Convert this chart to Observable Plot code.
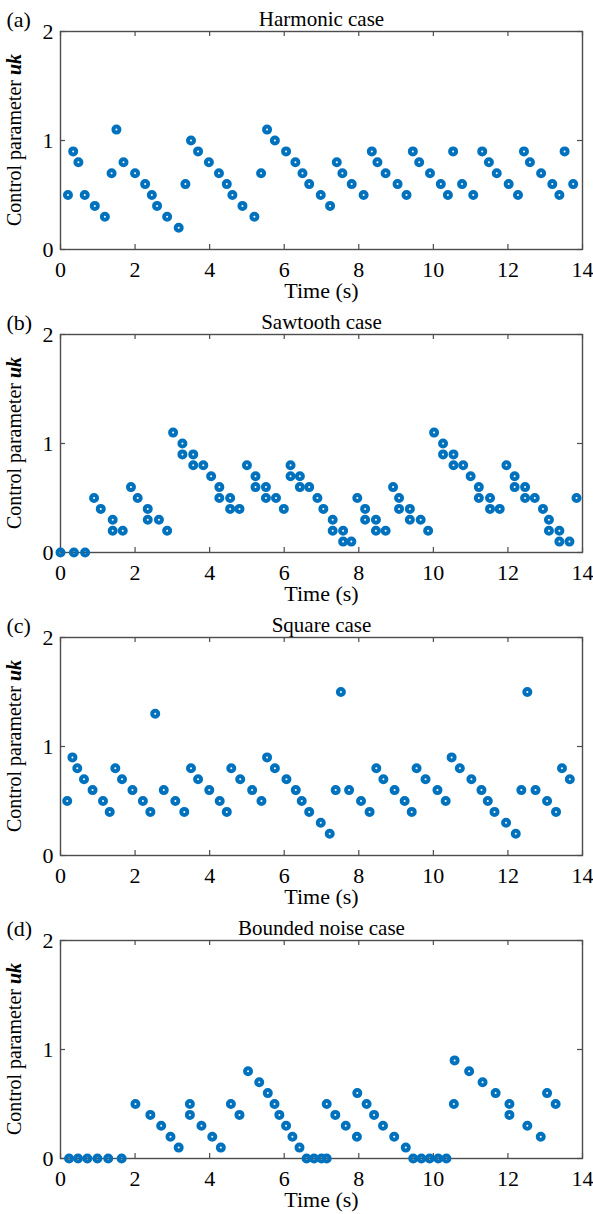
<!DOCTYPE html>
<html>
<head>
<meta charset="utf-8">
<script src="https://cdn.jsdelivr.net/npm/d3@7"></script>
<script src="https://cdn.jsdelivr.net/npm/@observablehq/plot@0.6"></script>
<style>
  body { margin: 0; background: #fff; }
  #chart svg { display: block; }
</style>
</head>
<body>
<div id="chart"></div>
<script>
// ---- Data (time in s, control parameter uk) ----
const harmonicT = [0.20,0.34,0.48,0.65,0.92,1.19,1.37,1.50,1.69,2.00,2.27,2.45,2.59,2.86,3.17,3.35,3.50,3.69,3.98,4.25,4.46,4.61,4.88,5.20,5.38,5.54,5.75,6.05,6.30,6.49,6.67,6.98,7.23,7.41,7.56,7.81,8.13,8.35,8.50,8.72,9.04,9.28,9.45,9.62,9.91,10.20,10.39,10.53,10.77,11.07,11.31,11.49,11.70,12.02,12.27,12.43,12.59,12.89,13.19,13.38,13.52,13.75];
const harmonicU = [0.5,0.9,0.8,0.5,0.4,0.3,0.7,1.1,0.8,0.7,0.6,0.5,0.4,0.3,0.2,0.6,1.0,0.9,0.8,0.7,0.6,0.5,0.4,0.3,0.7,1.1,1.0,0.9,0.8,0.7,0.6,0.5,0.4,0.8,0.7,0.6,0.5,0.9,0.8,0.7,0.6,0.5,0.9,0.8,0.7,0.6,0.5,0.9,0.6,0.5,0.9,0.8,0.7,0.6,0.5,0.9,0.8,0.7,0.6,0.5,0.9,0.6];

const sawtoothT = [0,0.36,0.66,0.90,1.08,1.40,1.40,1.67,1.89,2.07,2.34,2.34,2.64,2.86,3.02,3.27,3.27,3.56,3.56,3.83,4.04,4.26,4.26,4.55,4.55,4.80,5.00,5.23,5.23,5.51,5.51,5.78,5.99,6.17,6.17,6.42,6.42,6.67,6.89,7.05,7.30,7.30,7.58,7.58,7.80,7.96,8.17,8.17,8.46,8.46,8.72,8.92,9.08,9.08,9.37,9.37,9.66,9.86,10.02,10.26,10.26,10.54,10.54,10.80,11.00,11.22,11.22,11.52,11.52,11.78,11.96,12.18,12.18,12.46,12.46,12.72,12.94,13.10,13.10,13.38,13.38,13.65,13.84];
const sawtoothU = [0,0,0,0.5,0.4,0.3,0.2,0.2,0.6,0.5,0.4,0.3,0.3,0.2,1.1,1.0,0.9,0.9,0.8,0.8,0.7,0.6,0.5,0.5,0.4,0.4,0.8,0.7,0.6,0.6,0.5,0.5,0.4,0.8,0.7,0.7,0.6,0.6,0.5,0.4,0.3,0.2,0.2,0.1,0.1,0.5,0.4,0.3,0.3,0.2,0.2,0.6,0.5,0.4,0.4,0.3,0.3,0.2,1.1,1.0,0.9,0.9,0.8,0.8,0.7,0.6,0.5,0.5,0.4,0.4,0.8,0.7,0.6,0.6,0.5,0.5,0.4,0.3,0.2,0.2,0.1,0.1,0.5];

const squareT = [0.18,0.32,0.45,0.63,0.86,1.14,1.32,1.47,1.65,1.93,2.21,2.41,2.54,2.77,3.08,3.32,3.50,3.69,3.99,4.27,4.46,4.58,4.82,5.14,5.39,5.54,5.75,6.06,6.31,6.47,6.67,6.98,7.22,7.38,7.52,7.74,8.06,8.29,8.47,8.66,8.96,9.23,9.42,9.55,9.79,10.11,10.33,10.49,10.71,11.02,11.29,11.46,11.64,11.95,12.21,12.36,12.52,12.74,13.05,13.29,13.45,13.66];
const squareU = [0.5,0.9,0.8,0.7,0.6,0.5,0.4,0.8,0.7,0.6,0.5,0.4,1.3,0.6,0.5,0.4,0.8,0.7,0.6,0.5,0.4,0.8,0.7,0.6,0.5,0.9,0.8,0.7,0.6,0.5,0.4,0.3,0.2,0.6,1.5,0.6,0.5,0.4,0.8,0.7,0.6,0.5,0.4,0.8,0.7,0.6,0.5,0.9,0.8,0.7,0.6,0.5,0.4,0.3,0.2,0.6,1.5,0.6,0.5,0.4,0.8,0.7];

const noiseT = [0.23,0.47,0.72,0.99,1.28,1.64,2.01,2.41,2.70,2.95,3.17,3.47,3.47,3.78,4.07,4.30,4.57,4.80,5.03,5.33,5.56,5.74,5.87,6.05,6.22,6.41,6.60,6.80,7.00,7.14,7.14,7.37,7.65,7.95,7.96,8.21,8.41,8.65,8.95,9.26,9.46,9.68,9.90,10.13,10.35,10.55,10.57,10.96,11.32,11.67,12.04,12.04,12.52,12.88,13.05,13.28];
const noiseU = [0,0,0,0,0,0,0.5,0.4,0.3,0.2,0.1,0.5,0.4,0.3,0.2,0.1,0.5,0.4,0.8,0.7,0.6,0.5,0.4,0.3,0.2,0.1,0,0,0,0,0.5,0.4,0.3,0.2,0.6,0.5,0.4,0.3,0.2,0.1,0,0,0,0,0,0.5,0.9,0.8,0.7,0.6,0.5,0.4,0.3,0.2,0.6,0.5];

const panelLetters = ["(a)", "(b)", "(c)", "(d)"];
const panelTitles = ["Harmonic case", "Sawtooth case", "Square case", "Bounded noise case"];
const xTicks = [0, 2, 4, 6, 8, 10, 12, 14];
const yTicks = [0, 1, 2];
const xLabel = "Time (s)";
const yLabelMain = "Control parameter ";
const yLabelVar = "uk";

const series = [[harmonicT, harmonicU], [sawtoothT, sawtoothU], [squareT, squareU], [noiseT, noiseU]];

const FONT = "'Liberation Serif', 'Times New Roman', Times, serif";
const BLUE = "#0072BD";
const AXIS = "#4d4d4d";
const W = 593, ML = 60, MR = 11, MT = 31, PH = 218;

const root = document.getElementById("chart");

series.forEach(([T, U], i) => {
  const last = i === series.length - 1;
  const H = last ? 305 : 303;
  const data = T.map((t, j) => ({t, u: U[j]}));
  const inX = W - ML - MR - 5;
  const inY = PH - 5;
  const svg = Plot.plot({
    width: W,
    height: H,
    marginLeft: ML,
    marginRight: MR,
    marginTop: MT,
    marginBottom: H - MT - PH,
    style: {fontFamily: FONT, fontSize: "22px", color: "#000", background: "#fff"},
    x: {domain: [0, 14]},
    y: {domain: [0, 2]},
    marks: [
      Plot.axisX(xTicks, {tickSize: 0, tickPadding: 12, label: null, fontSize: 22, tickFormat: d3.format("d")}),
      Plot.axisY(yTicks, {tickSize: 0, tickPadding: 7, label: null, fontSize: 22, tickFormat: d3.format("d")}),
      Plot.tickX(xTicks, {x: d => d, stroke: AXIS, strokeWidth: 1.2, insetTop: inY}),
      Plot.tickX(xTicks, {x: d => d, stroke: AXIS, strokeWidth: 1.2, insetBottom: inY}),
      Plot.tickY(yTicks, {y: d => d, stroke: AXIS, strokeWidth: 1.2, insetRight: inX}),
      Plot.tickY(yTicks, {y: d => d, stroke: AXIS, strokeWidth: 1.2, insetLeft: inX}),
      Plot.frame({stroke: AXIS, strokeWidth: 1.4}),
      Plot.text([panelTitles[i]], {frameAnchor: "top", dy: -12, fontSize: 21, lineAnchor: "middle", fill: "#000"}),
      Plot.text([panelLetters[i]], {frameAnchor: "top-left", dx: -54, dy: -12, fontSize: 22, textAnchor: "start", lineAnchor: "middle", fill: "#000"}),
      Plot.text([xLabel], {frameAnchor: "bottom", dy: 41, fontSize: 22, lineAnchor: "middle", fill: "#000"}),
      Plot.dot(data, {x: "t", y: "u", r: 3, stroke: BLUE, strokeWidth: 4, fill: "none"})
    ]
  });
  const lab = d3.select(svg).append("text")
    .attr("transform", `translate(21,${MT + PH / 2}) rotate(-90)`)
    .attr("text-anchor", "middle")
    .attr("font-family", FONT)
    .attr("font-size", 20)
    .attr("fill", "#000");
  lab.append("tspan").text(yLabelMain);
  lab.append("tspan").attr("font-weight", "bold").attr("font-style", "italic").text(yLabelVar);
  root.appendChild(svg);
});
</script>
</body>
</html>
